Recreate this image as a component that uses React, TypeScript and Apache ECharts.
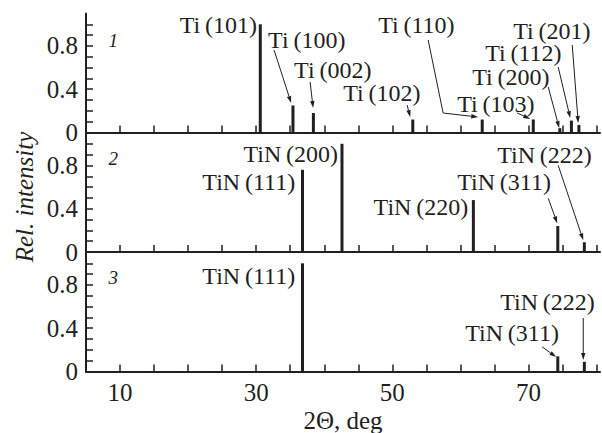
import React, { useEffect, useRef } from "react";
import * as echarts from "echarts";

// ---------- data ----------
const panel1Peak2Theta = [30.6, 35.4, 38.4, 53.0, 63.2, 70.7, 74.6, 76.3, 77.4];
const panel1Intensity = [1.0, 0.25, 0.18, 0.12, 0.12, 0.12, 0.04, 0.11, 0.07];
const panel2Peak2Theta = [36.8, 42.6, 61.9, 74.3, 78.2];
const panel2Intensity = [0.76, 1.0, 0.48, 0.24, 0.09];
const panel3Peak2Theta = [36.8, 74.3, 78.2];
const panel3Intensity = [1.0, 0.14, 0.09];

const panel1LabelText = ["Ti(101)", "Ti(100)", "Ti(002)", "Ti(102)", "Ti(110)", "Ti(103)", "Ti(200)", "Ti(112)", "Ti(201)"];
const panel1LabelAt = [[30.13, 0.99], [31.75, 0.855], [35.57, 0.578], [42.77, 0.365], [47.91, 0.99], [59.52, 0.263], [61.73, 0.513], [63.64, 0.735], [67.75, 0.935]];
const panel1LabelAlign = ["right", "left", "left", "left", "left", "left", "left", "left", "left"];
const panel1Arrows = [
  [[32.63, 0.762], [35.13, 0.273]],
  [[37.92, 0.467], [38.36, 0.226]],
  [[52.17, 0.254], [52.62, 0.143]],
  [[55.26, 0.855], [57.46, 0.18], [62.61, 0.143]],
  [[68.34, 0.18], [70.25, 0.125]],
  [[72.9, 0.42], [74.51, 0.042]],
  [[74.36, 0.605], [76.13, 0.134]],
  [[76.42, 0.809], [77.3, 0.088]],
];

const panel2LabelText = ["TiN(200)", "TiN(111)", "TiN(220)", "TiN(311)", "TiN(222)"];
const panel2LabelAt = [[42.03, 0.903], [35.72, 0.644], [61.14, 0.413], [59.52, 0.644], [65.4, 0.894]];
const panel2LabelAlign = ["right", "right", "right", "left", "left"];
const panel2Arrows = [
  [[72.9, 0.496], [74.22, 0.265]],
  [[74.36, 0.801], [78.04, 0.108]],
];

const panel3LabelText = ["TiN(111)", "TiN(222)", "TiN(311)"];
const panel3LabelAt = [[35.72, 0.883], [65.84, 0.642], [60.7, 0.356]];
const panel3LabelAlign = ["right", "left", "left"];
const panel3Arrows = [
  [[72.01, 0.227], [74.07, 0.134]],
  [[78.04, 0.494], [78.04, 0.106]],
];

const panelNumbers = ["1", "2", "3"];
const panelNumberAt = [[9.0, 0.855], [9.0, 0.866], [9.0, 0.873]];

const xTickLabels = [10, 30, 50, 70];
const yTickLabels = [0, 0.4, 0.8];
const xAxisTitle = "2Θ, deg";
const yAxisTitle = "Rel. intensity";

// ---------- style ----------
const FONT = "Liberation Serif, Times New Roman, serif";
const INK = "#231f20";
const TS = "\u2009";

const X_MIN = 5;
const X_MAX = 80.5;
const Y_MAX = 1.1;

const xTicks: number[] = [];
for (let v = 5; v <= 80; v += 5) xTicks.push(v);
const yTicks: number[] = [];
for (let i = 0; i <= 10; i++) yTicks.push(Math.round(i * 10) / 100);

const gridTops = [13.5, 133, 252.5];

function near(list: number[], v: number) {
  return list.some((t) => Math.abs(t - v) < 1e-6);
}

function makeOption() {
  const peaks = [
    [panel1Peak2Theta, panel1Intensity],
    [panel2Peak2Theta, panel2Intensity],
    [panel3Peak2Theta, panel3Intensity],
  ];
  const labels = [
    [panel1LabelText, panel1LabelAt, panel1LabelAlign],
    [panel2LabelText, panel2LabelAt, panel2LabelAlign],
    [panel3LabelText, panel3LabelAt, panel3LabelAlign],
  ] as any[];
  const arrows = [panel1Arrows, panel2Arrows, panel3Arrows];

  const grid = gridTops.map((t) => ({
    left: 86,
    top: t,
    width: 514,
    height: 119,
    containLabel: false,
    outerBoundsMode: "none",
  }));

  const xAxis = [0, 1, 2].map((i) => ({
    type: "value",
    gridIndex: i,
    min: X_MIN,
    max: X_MAX,
    interval: 5,
    axisLine: { show: true, onZero: false, lineStyle: { color: INK, width: 2 } },
    axisTick: { show: true, inside: true, length: 7, customValues: xTicks, lineStyle: { color: INK, width: 1.5 } },
    axisLabel: {
      show: i === 2,
      customValues: xTickLabels,
      margin: 8,
      color: INK,
      fontFamily: FONT,
      fontSize: 25,
      formatter: (v: number) => (near(xTickLabels, v) ? String(v) : ""),
    },
    splitLine: { show: false },
    name: i === 2 ? xAxisTitle : "",
    nameLocation: "middle",
    nameGap: 36,
    nameTextStyle: { color: INK, fontFamily: FONT, fontSize: 25 },
  }));

  const yAxis = [0, 1, 2].map((i) => ({
    type: "value",
    gridIndex: i,
    min: 0,
    max: Y_MAX,
    interval: 0.1,
    axisLine: { show: true, onZero: false, lineStyle: { color: INK, width: 2 } },
    axisTick: { show: true, inside: true, length: 7, customValues: yTicks, lineStyle: { color: INK, width: 1.5 } },
    axisLabel: {
      show: true,
      customValues: yTickLabels,
      margin: 8,
      color: INK,
      fontFamily: FONT,
      fontSize: 25,
      formatter: (v: number) => (near(yTickLabels, v) ? String(v) : ""),
    },
    splitLine: { show: false },
  }));

  const series: any[] = [];
  [0, 1, 2].forEach((i) => {
    const [xs, ys] = peaks[i];
    series.push({
      type: "bar",
      xAxisIndex: i,
      yAxisIndex: i,
      barWidth: 3,
      itemStyle: { color: INK },
      data: xs.map((x, k) => [x, ys[k]]),
    });

    const [texts, at, align] = labels[i];
    series.push({
      type: "custom",
      xAxisIndex: i,
      yAxisIndex: i,
      data: at.map((p: number[]) => [p[0], p[1]]),
      renderItem: (params: any, api: any) => {
        const k = params.dataIndex;
        const p = api.coord(at[k]);
        return {
          type: "text",
          x: p[0],
          y: p[1],
          style: {
            text: texts[k].replace("(", TS + "("),
            fill: INK,
            fontFamily: FONT,
            fontSize: 24,
            lineHeight: 20,
            align: align[k],
            verticalAlign: "middle",
          },
        };
      },
    });

    const arr = arrows[i];
    series.push({
      type: "custom",
      xAxisIndex: i,
      yAxisIndex: i,
      data: arr.map((a) => [a[0][0], a[0][1]]),
      renderItem: (params: any, api: any) => {
        const pts = arr[params.dataIndex].map((q) => api.coord(q));
        const n = pts.length;
        const [tx, ty] = pts[n - 1];
        const [px, py] = pts[n - 2];
        const dx = tx - px;
        const dy = ty - py;
        const len = Math.hypot(dx, dy) || 1;
        const ux = dx / len;
        const uy = dy / len;
        const hl = 7;
        const hw = 2.2;
        const bx = tx - ux * hl;
        const by = ty - uy * hl;
        const line = pts.slice(0, n - 1).concat([[bx, by]]);
        return {
          type: "group",
          children: [
            { type: "polyline", shape: { points: line }, style: { stroke: INK, lineWidth: 1, fill: null } },
            {
              type: "polygon",
              shape: { points: [[tx, ty], [bx - uy * hw, by + ux * hw], [bx + uy * hw, by - ux * hw]] },
              style: { fill: INK },
            },
          ],
        };
      },
    });

    series.push({
      type: "custom",
      xAxisIndex: i,
      yAxisIndex: i,
      data: [panelNumberAt[i]],
      renderItem: (params: any, api: any) => {
        const p = api.coord(panelNumberAt[i]);
        return {
          type: "text",
          x: p[0],
          y: p[1],
          style: {
            text: panelNumbers[i],
            fill: INK,
            fontFamily: FONT,
            fontSize: 19,
            fontStyle: "italic",
            align: "center",
            verticalAlign: "middle",
          },
        };
      },
    });
  });

  return {
    animation: false,
    backgroundColor: "#ffffff",
    grid,
    xAxis,
    yAxis,
    series,
    graphic: [
      {
        type: "text",
        x: 24,
        y: 197,
        rotation: Math.PI / 2,
        style: {
          text: yAxisTitle,
          fill: INK,
          fontFamily: FONT,
          fontSize: 25,
          fontStyle: "italic",
          align: "center",
          verticalAlign: "middle",
        },
      },
    ],
  };
}

export default function App() {
  const ref = useRef<HTMLDivElement>(null);
  useEffect(() => {
    document.body.style.margin = "0";
    const chart = echarts.init(ref.current!, null, { renderer: "svg" });
    chart.setOption(makeOption() as any);
    return () => chart.dispose();
  }, []);
  return (
    <div
      ref={ref}
      style={{ position: "fixed", left: 0, top: 0, width: 602, height: 433, background: "#fff" }}
    />
  );
}
